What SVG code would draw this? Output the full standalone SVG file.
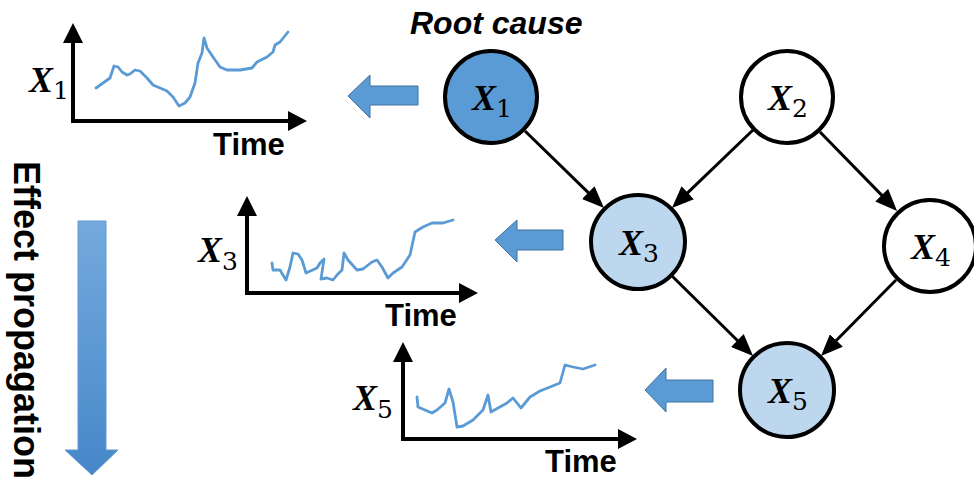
<svg xmlns="http://www.w3.org/2000/svg" width="974" height="481" viewBox="0 0 974 481">
  <style>
    .node { stroke: #000; stroke-width: 4; }
    .root { fill: #5B9BD5; }
    .hit { fill: #BDD7EE; }
    .plain { fill: #fff; }
    .edge { fill: none; stroke: #000; stroke-width: 3; }
    .axis { fill: none; stroke: #000; stroke-width: 4; }
    .axhead { fill: #000; }
    .series { fill: none; stroke: #5B9BD5; stroke-width: 2.8; stroke-linejoin: round; stroke-linecap: round; }
    .var { font-family: "Liberation Serif", "DejaVu Serif", serif; font-weight: bold; font-style: italic; font-size: 36px; fill: #000; }
    .sub { font-family: "DejaVu Serif", "Liberation Serif", serif; font-weight: normal; font-style: normal; font-size: 25px; }
    .time { font-family: "Liberation Sans", Arial, sans-serif; font-weight: bold; font-size: 31px; fill: #000; }
    .title { font-family: "Liberation Sans", Arial, sans-serif; font-weight: bold; font-size: 36px; fill: #000; }
    .rc { font-family: "Liberation Sans", Arial, sans-serif; font-weight: bold; font-style: italic; font-size: 32px; fill: #000; }
    .flow { fill: #5B9BD5; stroke: #41719C; stroke-width: 1; }
  </style>
  <defs>
    <marker id="tip" viewBox="0 0 22 18" refX="9" refY="9" markerWidth="22" markerHeight="18" markerUnits="userSpaceOnUse" orient="auto">
      <path d="M0,0 L22,9 L0,18 z" fill="#000"/>
    </marker>
    <linearGradient id="downGrad" x1="0" y1="0" x2="0" y2="1">
      <stop offset="0" stop-color="#74AADD"/>
      <stop offset="1" stop-color="#4687C9"/>
    </linearGradient>
  </defs>

  <!-- propagation direction -->
  <g id="effect-propagation">
    <text class="title" transform="translate(14,161) rotate(90)">Effect propagation</text>
    <path d="M78,221 H106 V450 H118 L92,475 L65,450 H78 Z" fill="url(#downGrad)" stroke="#5E9AD3" stroke-width="1"/>
  </g>

  <text class="rc" x="410" y="34">Root cause</text>

  <!-- time series panel for X1 -->
  <g id="plot-x1">
    <path class="axis" d="M73,121 V42 M71,121 H289"/>
    <path class="axhead" d="M63,43 L73,23 L83,43 Z M288,111 L307,121 L288,131 Z"/>
    <path class="series" d="M96,88 L110,78 L114,66 L118,67 L122,72 L127,75 L130,74 L135,70 L140,71 L147,78 L153,85 L160,88 L167,91 L173,97 L179,106 L185,103 L190,97 L195,83 L198,63 L202,53 L204,38 L207,48 L213,57 L220,67 L227,70 L240,70 L252,68 L257,62 L267,57 L273,52 L275,45 L280,42 L288,32"/>
    <text class="var" x="29" y="92">X<tspan class="sub" dy="7">1</tspan></text>
    <text class="time" x="213" y="155">Time</text>
  </g>

  <!-- time series panel for X3 -->
  <g id="plot-x3">
    <path class="axis" d="M247,293 V215 M245,293 H460"/>
    <path class="axhead" d="M237,216 L247,196 L257,216 Z M459,283 L478,293 L459,303 Z"/>
    <path class="series" d="M272,263 L273,270 L280,270 L286,280 L290,267 L293,253 L298,254 L302,260 L306,273 L317,268 L320,263 L324,259 L321,279 L327,278 L333,280 L337,275 L342,270 L344,253 L348,260 L357,270 L363,269 L372,262 L377,260 L382,267 L388,278 L393,273 L402,267 L410,255 L415,232 L423,227 L432,223 L443,223 L453,220"/>
    <text class="var" x="198" y="262">X<tspan class="sub" dy="8">3</tspan></text>
    <text class="time" x="385" y="326">Time</text>
  </g>

  <!-- time series panel for X5 -->
  <g id="plot-x5">
    <path class="axis" d="M403,439 V361 M401,439 H619"/>
    <path class="axhead" d="M393,362 L403,342 L413,362 Z M618,429 L637,439 L618,449 Z"/>
    <path class="series" d="M417,397 L418,407 L425,410 L432,413 L437,410 L445,403 L449,389 L453,402 L457,427 L463,426 L473,420 L483,410 L488,395 L491,412 L498,408 L507,403 L513,398 L517,403 L521,408 L530,397 L540,391 L550,387 L560,383 L565,365 L573,367 L583,369 L595,365"/>
    <text class="var" x="353" y="410">X<tspan class="sub" dy="8">5</tspan></text>
    <text class="time" x="545" y="472">Time</text>
  </g>

  <!-- block arrows from each variable to its series -->
  <g id="flow-arrows">
    <path class="flow" d="M348,96 L370,75 V86 H418 V105 H370 V118 Z"/>
    <path class="flow" d="M495,240 L517,220 V230 H563 V250 H517 V262 Z"/>
    <path class="flow" d="M645,390 L666,368 V380 H713 V402 H666 V412 Z"/>
  </g>

  <!-- causal edges -->
  <g id="edges">
    <path class="edge" marker-end="url(#tip)" d="M525,131 L594.7,198.9"/>
    <path class="edge" marker-end="url(#tip)" d="M753,130 L681.3,198.9"/>
    <path class="edge" marker-end="url(#tip)" d="M820,132 L888,201.6"/>
    <path class="edge" marker-end="url(#tip)" d="M672,276 L743.8,346.8"/>
    <path class="edge" marker-end="url(#tip)" d="M896,280 L830.1,346.8"/>
  </g>

  <!-- variables -->
  <g id="node-x1">
    <circle class="node root" cx="491" cy="97" r="46"/>
    <text class="var" x="472" y="110">X<tspan class="sub" dy="7">1</tspan></text>
  </g>
  <g id="node-x2">
    <circle class="node plain" cx="787" cy="97" r="46"/>
    <text class="var" x="768" y="110">X<tspan class="sub" dy="7">2</tspan></text>
  </g>
  <g id="node-x3">
    <circle class="node hit" cx="638" cy="242" r="47"/>
    <text class="var" x="619" y="255">X<tspan class="sub" dy="7">3</tspan></text>
  </g>
  <g id="node-x4">
    <circle class="node plain" cx="930" cy="246" r="46"/>
    <text class="var" x="911" y="259">X<tspan class="sub" dy="7">4</tspan></text>
  </g>
  <g id="node-x5">
    <circle class="node hit" cx="787" cy="390" r="47"/>
    <text class="var" x="768" y="403">X<tspan class="sub" dy="7">5</tspan></text>
  </g>
</svg>
